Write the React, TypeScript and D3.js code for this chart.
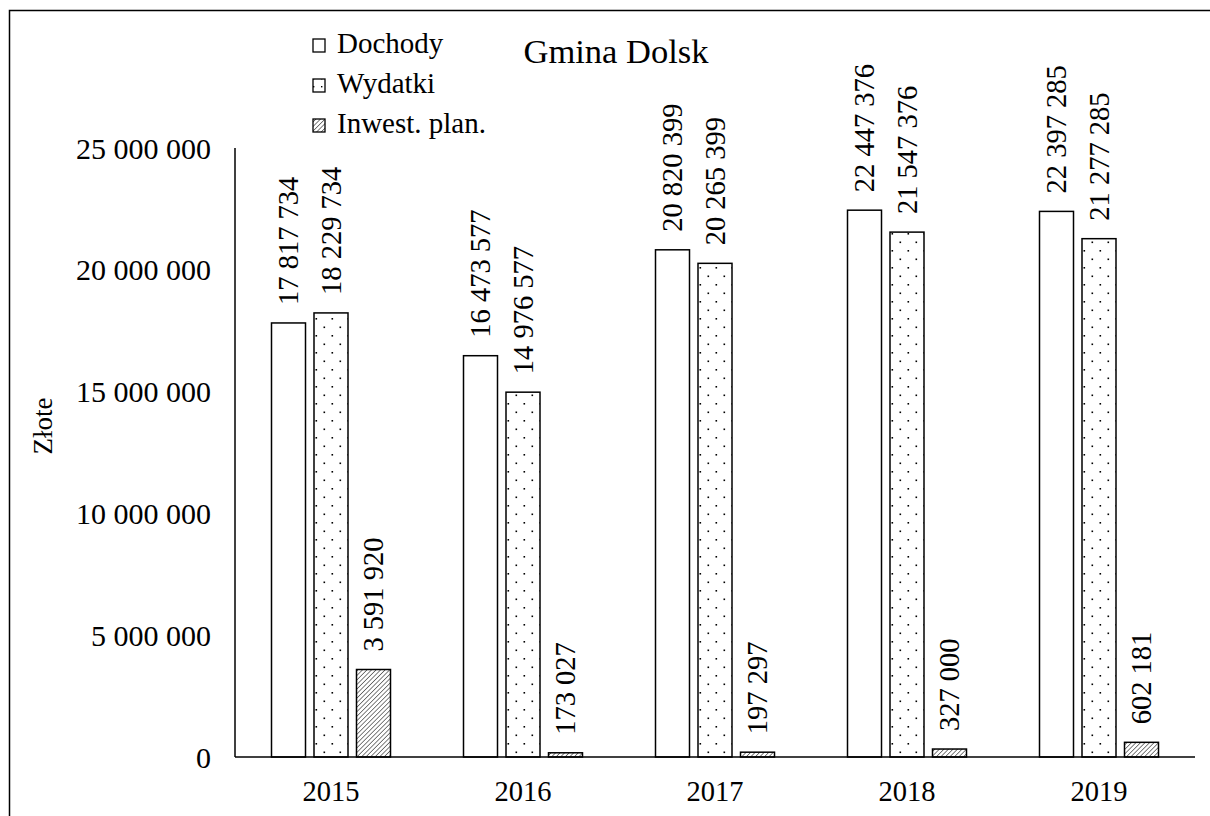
import React from "react";
import * as d3 from "d3";

// Budget of Gmina Dolsk, 2015–2019 (PLN)
const years = ["2015", "2016", "2017", "2018", "2019"];
const seriesNames = ["Dochody", "Wydatki", "Inwest. plan."];
const dochody = [17817734, 16473577, 20820399, 22447376, 22397285];
const wydatki = [18229734, 14976577, 20265399, 21547376, 21277285];
const inwestycje = [3591920, 173027, 197297, 327000, 602181];
const yTicks = [0, 5000000, 10000000, 15000000, 20000000, 25000000];

const W = 1210;
const H = 816;
const FONT = "Liberation Serif, Times New Roman, Times, DejaVu Serif, serif";

const locale = d3.formatLocale({
  decimal: ",",
  thousands: " ",
  grouping: [3],
  currency: ["", " zł"],
});
const fmt = locale.format(",d");

export default function App() {
  React.useEffect(() => {
    document.body.style.margin = "0";
  }, []);

  const left = 235;
  const right = 1195;
  const bottom = 757;
  const top = 148;

  const x0 = d3.scaleBand<string>().domain(years).range([left, right]).padding(0);
  const groupW = 119;
  const x1 = d3
    .scaleBand<string>()
    .domain(seriesNames)
    .range([0, groupW])
    .paddingInner(0.2)
    .paddingOuter(0);
  const y = d3.scaleLinear().domain([0, 25000000]).range([bottom, top]);

  const fills = ["#ffffff", "url(#dots)", "url(#hatch)"];
  const values = [dochody, wydatki, inwestycje];

  const bars: React.ReactNode[] = [];
  const labels: React.ReactNode[] = [];
  years.forEach((yr, i) => {
    const gx = (x0(yr) as number) + (x0.bandwidth() - groupW) / 2;
    seriesNames.forEach((s, j) => {
      const v = values[j][i];
      const bx = gx + (x1(s) as number);
      const bw = x1.bandwidth();
      const by = y(v);
      bars.push(
        <rect
          key={`b-${yr}-${s}`}
          x={bx}
          y={by}
          width={bw}
          height={bottom - by}
          fill={fills[j]}
          stroke="#000"
          strokeWidth={1.5}
        />
      );
      const cx = bx + bw / 2;
      const ly = by - 18;
      labels.push(
        <text
          key={`l-${yr}-${s}`}
          transform={`translate(${cx},${ly}) rotate(-90)`}
          dy="0.35em"
          textAnchor="start"
          fontSize={28.5}
          fill="#000"
        >
          {fmt(v)}
        </text>
      );
    });
  });

  const legendX = 313;
  const legendY = [40, 80, 120];

  return (
    <svg
      width={W}
      height={H}
      style={{ position: "absolute", left: 0, top: 0, background: "#fff", fontFamily: FONT }}
    >
      <defs>
        <pattern id="dots" patternUnits="userSpaceOnUse" width={16} height={17}>
          <rect width={16} height={17} fill="#fff" />
          <rect x={3.5} y={3.5} width={1.6} height={1.6} fill="#000" />
          <rect x={11.5} y={12} width={1.6} height={1.6} fill="#000" />
        </pattern>
        <pattern
          id="hatch"
          patternUnits="userSpaceOnUse"
          width={3.2}
          height={3.2}
          patternTransform="rotate(45)"
        >
          <rect width={3.2} height={3.2} fill="#fff" />
          <line x1={0} y1={0} x2={0} y2={3.2} stroke="#000" strokeWidth={1} />
        </pattern>
        <pattern id="dotsSmall" patternUnits="userSpaceOnUse" width={8} height={8}>
          <rect width={8} height={8} fill="#fff" />
          <rect x={1} y={6} width={1.4} height={1.4} fill="#000" />
        </pattern>
      </defs>

      {/* outer frame */}
      <rect x={9.5} y={10.5} width={W + 10} height={H + 10} fill="none" stroke="#000" strokeWidth={1.5} />

      {/* title */}
      <text x={616} y={63} textAnchor="middle" fontSize={34.5}>
        Gmina Dolsk
      </text>

      {/* y tick labels */}
      {yTicks.map((t) => (
        <text key={`yt-${t}`} x={211} y={y(t)} dy="0.35em" textAnchor="end" fontSize={30}>
          {fmt(t)}
        </text>
      ))}

      {/* y axis title */}
      <text transform={`translate(43,426) rotate(-90)`} dy="0.35em" textAnchor="middle" fontSize={27}>
        Złote
      </text>

      {bars}

      {/* axes */}
      <line x1={left} y1={top} x2={left} y2={bottom} stroke="#000" strokeWidth={1.5} />
      <line x1={left} y1={bottom} x2={right} y2={bottom} stroke="#000" strokeWidth={1.5} />

      {/* category labels */}
      {years.map((yr) => (
        <text
          key={`xl-${yr}`}
          x={(x0(yr) as number) + x0.bandwidth() / 2}
          y={801}
          textAnchor="middle"
          fontSize={28.5}
        >
          {yr}
        </text>
      ))}

      {labels}

      {/* legend */}
      {seriesNames.map((s, j) => (
        <g key={`lg-${s}`}>
          <rect
            x={legendX}
            y={legendY[j] - 1}
            width={12}
            height={13}
            fill={j === 0 ? "#fff" : j === 1 ? "url(#dotsSmall)" : "url(#hatch)"}
            stroke="#000"
            strokeWidth={1.3}
          />
          <text x={legendX + 24} y={legendY[j] + 13} fontSize={29}>
            {s}
          </text>
        </g>
      ))}
    </svg>
  );
}
